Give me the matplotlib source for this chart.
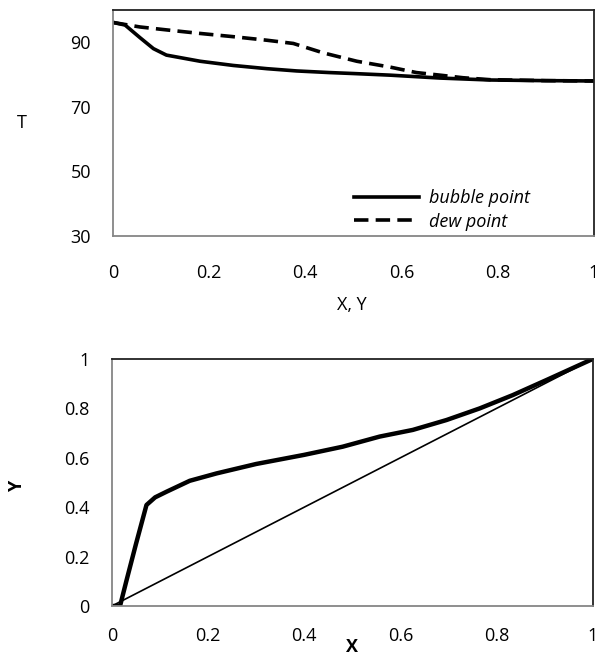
import matplotlib

matplotlib.use("Agg")
import matplotlib.pyplot as plt

plt.rcParams["font.family"] = ["Open Sans", "DejaVu Sans"]

# T-x-y diagram
bubble_x = [0.0, 0.025, 0.056, 0.084, 0.111, 0.181, 0.25, 0.32, 0.382, 0.45, 0.5, 0.576, 0.68, 0.784, 0.9, 1.0]
bubble_T = [96.1, 95.3, 91.4, 88.0, 86.0, 84.1, 82.8, 81.8, 81.1, 80.6, 80.3, 79.8, 78.9, 78.3, 78.1, 78.0]
dew_x = [0.0, 0.056, 0.111, 0.181, 0.25, 0.32, 0.375, 0.437, 0.507, 0.576, 0.631, 0.68, 0.728, 0.784, 0.9, 1.0]
dew_T = [96.1, 94.7, 93.8, 92.7, 91.7, 90.6, 89.6, 86.7, 84.1, 82.3, 80.6, 79.8, 79.0, 78.4, 78.1, 78.0]

# x-y diagram
eq_x = [0.0, 0.017, 0.03, 0.05, 0.072, 0.09, 0.114, 0.162, 0.218, 0.30, 0.40, 0.48, 0.557, 0.626, 0.696, 0.765, 0.834, 0.904, 1.0]
eq_y = [0.0, 0.0, 0.1, 0.25, 0.409, 0.44, 0.463, 0.507, 0.537, 0.575, 0.612, 0.645, 0.686, 0.713, 0.753, 0.80, 0.854, 0.915, 1.0]
diag = [0.0, 1.0]

x_ticks = [0, 0.2, 0.4, 0.6, 0.8, 1]
x_tick_labels = ["0", "0.2", "0.4", "0.6", "0.8", "1"]
T_ticks = [30, 50, 70, 90]
y_ticks = [0, 0.2, 0.4, 0.6, 0.8, 1]
y_tick_labels = ["0", "0.2", "0.4", "0.6", "0.8", "1"]

fig = plt.figure(figsize=(5.95, 6.56), dpi=100)
ax1 = fig.add_axes([0.190, 0.640, 0.808, 0.345])
ax2 = fig.add_axes([0.188, 0.0762, 0.808, 0.3765])


def style(ax):
    for side in ("left", "bottom"):
        ax.spines[side].set_color("#868686")
        ax.spines[side].set_linewidth(1.3)
    for side in ("top", "right"):
        ax.spines[side].set_color("#222222")
        ax.spines[side].set_linewidth(1.3)
    ax.tick_params(length=0, labelsize=13)


ax1.plot(bubble_x, bubble_T, color="black", lw=2.6, label="bubble point")
ax1.plot(dew_x, dew_T, color="black", lw=2.6, dashes=(4, 2), label="dew point")
ax1.set_xlim(0, 1)
ax1.set_ylim(30, 100)
ax1.set_xticks(x_ticks)
ax1.set_xticklabels(x_tick_labels)
ax1.set_yticks(T_ticks)
style(ax1)
ax1.tick_params(axis="x", pad=20)
ax1.tick_params(axis="y", pad=16)
leg = ax1.legend(loc="lower left", bbox_to_anchor=(0.495, 0.012), frameon=False,
                 handlelength=3.6, borderaxespad=0.0, borderpad=0.15,
                 labelspacing=0.3, handletextpad=0.55,
                 prop={"style": "italic", "size": 13})
fig.text(352 / 595, 1 - 305 / 656, "X, Y", ha="center", va="center", fontsize=13)
fig.text(22 / 595, 1 - 123 / 656, "T", ha="center", va="center", fontsize=13)

ax2.plot(eq_x, eq_y, color="black", lw=3.2)
ax2.plot(diag, diag, color="black", lw=1.2)
ax2.set_xlim(0, 1)
ax2.set_ylim(0, 1)
ax2.set_xticks(x_ticks)
ax2.set_xticklabels(x_tick_labels)
ax2.set_yticks(y_ticks)
ax2.set_yticklabels(y_tick_labels)
style(ax2)
ax2.tick_params(axis="x", pad=15)
ax2.tick_params(axis="y", pad=16)
fig.text(352 / 595, 1 - 647 / 656, "X", ha="center", va="center", fontsize=13, fontweight="bold")
fig.text(17 / 595, 1 - 486 / 656, "Y", ha="center", va="center", fontsize=13,
         fontweight="bold", rotation=90)

fig.savefig("out.png", dpi=100)
